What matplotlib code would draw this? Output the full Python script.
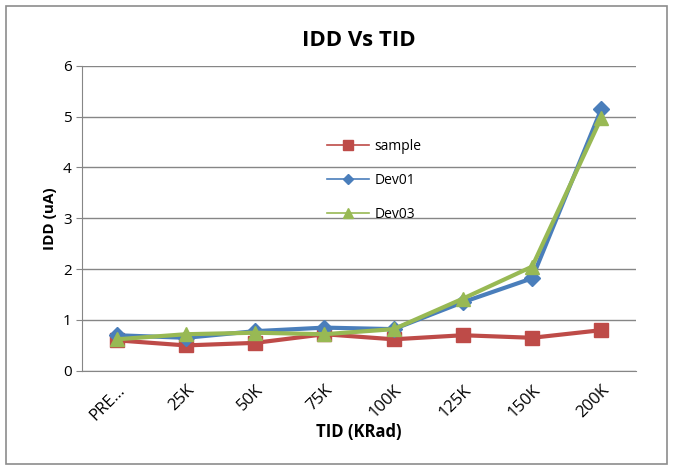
import matplotlib
matplotlib.use("Agg")
import matplotlib.pyplot as plt
from matplotlib.patches import Rectangle

categories = ["PRE...", "25K", "50K", "75K", "100K", "125K", "150K", "200K"]
sample = [0.60, 0.50, 0.55, 0.72, 0.62, 0.70, 0.65, 0.80]
dev01 = [0.70, 0.65, 0.78, 0.85, 0.82, 1.35, 1.82, 5.15]
dev03 = [0.62, 0.72, 0.75, 0.72, 0.82, 1.42, 2.05, 4.98]
y_ticks = [0, 1, 2, 3, 4, 5, 6]

plt.rcParams['font.family'] = ['Open Sans', 'DejaVu Sans']

fig = plt.figure(figsize=(6.73, 4.70), dpi=100)
fig.patches.append(Rectangle((0.009, 0.012), 0.982, 0.975, transform=fig.transFigure,
                             fill=False, edgecolor="#8c8c8c", linewidth=1.2))
ax = fig.add_axes([0.122, 0.211, 0.823, 0.649])

x = list(range(len(categories)))
ax.plot(x, sample, color="#BE4B48", lw=3, marker="s", ms=10, label="sample", zorder=3)
ax.plot(x, dev01, color="#4A7EBB", lw=3, marker="D", ms=8, label="Dev01", zorder=4)
ax.plot(x, dev03, color="#98B954", lw=3, marker="^", ms=10, label="Dev03", zorder=5)

ax.set_xlim(-0.5, len(categories) - 0.5)
ax.set_ylim(0, 6)
ax.set_yticks(y_ticks)
ax.set_xticks(x)
ax.set_xticklabels(categories, rotation=45, ha="right", rotation_mode="anchor", fontsize=12)
ax.tick_params(axis="y", labelsize=11, length=4, color="#868686")
ax.tick_params(axis="x", length=0, pad=8)
ax.grid(axis="y", color="#868686", lw=1)
ax.set_axisbelow(True)
for s in ["top", "right"]:
    ax.spines[s].set_visible(False)
ax.spines["left"].set_color("#868686")
ax.spines["bottom"].set_color("#868686")

ax.set_title("IDD Vs TID", fontsize=16, fontweight="bold", pad=14)
ax.set_ylabel("IDD (uA)", fontsize=11, fontweight="bold")
ax.set_xlabel("TID (KRad)", fontsize=12, fontweight="bold", labelpad=0)

leg = ax.legend(loc="upper left", bbox_to_anchor=(0.42, 0.80), frameon=False,
                fontsize=10, labelspacing=1.35, handlelength=3, handletextpad=0.4,
                markerscale=0.7)
for line in leg.get_lines():
    line.set_linewidth(1.2)

fig.savefig("out.png", dpi=100, facecolor="white")
